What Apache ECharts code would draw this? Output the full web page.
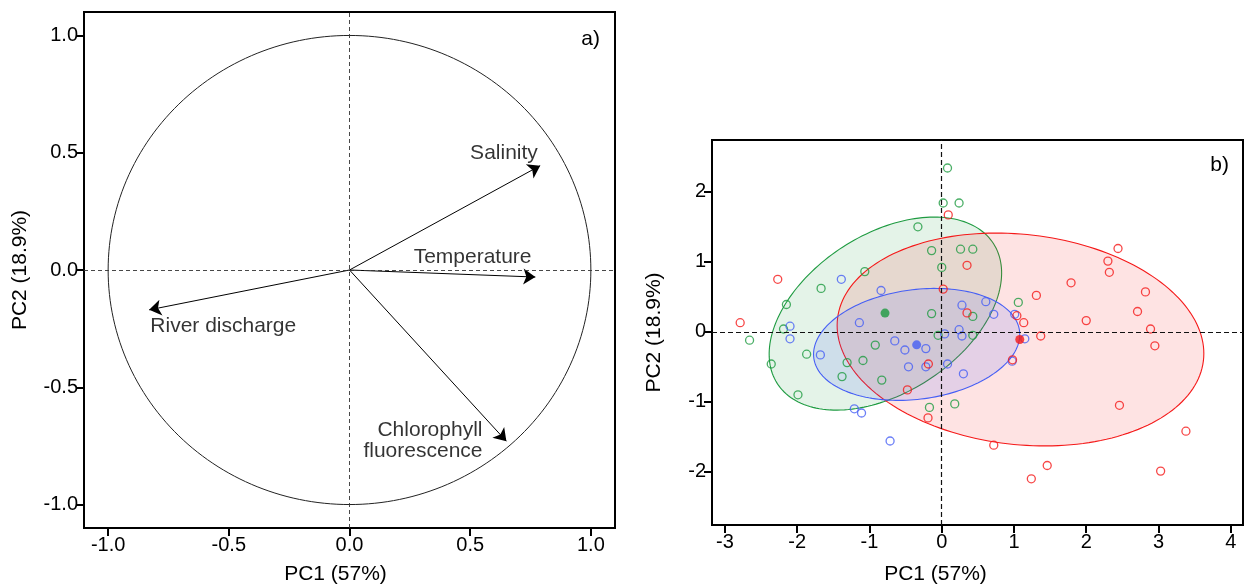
<!DOCTYPE html>
<html><head><meta charset="utf-8">
<script src="https://cdn.jsdelivr.net/npm/echarts@6/dist/echarts.min.js"></script>
<style>html,body{margin:0;padding:0;background:#fff}#c{width:1244px;height:584px}</style>
</head><body><div id="c"></div>
<script>
// ---------- Panel a) : correlation circle ----------
const loadingTicks = [-1, -0.5, 0, 0.5, 1];
const variableNames = ['Salinity', 'Temperature', 'River discharge', 'Chlorophyll\nfluorescence'];
const loadingPC1 = [0.79, 0.77, -0.83, 0.65];
const loadingPC2 = [0.445, -0.03, -0.17, -0.73];
const labelPC1 = [0.64, 0.51, -0.523, 0.551];
const labelPC2 = [0.50, 0.054, -0.24, -0.729];
const labelAlign = ['center', 'center', 'center', 'right'];
const circleRadius = [1];

// ---------- Panel b) : PCA scores ----------
const scoreXTicks = [-3, -2, -1, 0, 1, 2, 3, 4];
const scoreYTicks = [-2, -1, 0, 1, 2];
const greenPC1 = [0.08, 0.02, 0.24, -0.33, -0.14, 0.26, 0.43, 0.00, -1.065, -1.67, -2.15, -2.19, -2.66, -2.36, -1.87, -1.99, -1.31, -1.09, -1.38, -0.92, -0.83, -0.14, 0.43, 1.06, -0.05, 0.43, -0.17, 0.18];
const greenPC2 = [2.34, 1.84, 1.84, 1.50, 1.16, 1.18, 1.18, 0.92, 0.86, 0.62, 0.39, 0.04, -0.12, -0.46, -0.32, -0.90, -0.44, -0.41, -0.64, -0.19, -0.69, 0.26, 0.22, 0.42, -0.05, -0.05, -1.08, -1.03];
const bluePC1 = [-1.39, -0.84, -1.14, -2.10, -2.10, -1.68, -1.21, -1.11, -0.715, 0.28, 0.61, 0.72, 1.01, 0.24, 0.28, 0.04, -0.65, -0.51, -0.22, -0.22, -0.46, 0.08, 0.30, 1.15, 0.975];
const bluePC2 = [0.75, 0.59, 0.13, 0.08, -0.10, -0.33, -1.10, -1.16, -1.56, 0.38, 0.43, 0.25, 0.25, 0.03, -0.06, -0.03, -0.13, -0.26, -0.24, -0.50, -0.50, -0.46, -0.60, -0.10, -0.42];
const redPC1 = [-2.27, -2.79, 0.09, 0.35, 0.02, 0.35, -0.185, -0.475, -0.19, 1.31, 1.04, 1.135, 1.37, 0.98, 2.44, 2.30, 2.32, 1.79, 2.82, 2.71, 2.00, 2.89, 2.95, 2.46, 3.38, 0.72, 1.46, 1.24, 3.03];
const redPC2 = [0.75, 0.13, 1.67, 0.95, 0.61, 0.27, -0.46, -0.83, -1.23, 0.52, 0.23, 0.13, -0.06, -0.40, 1.19, 1.01, 0.85, 0.70, 0.57, 0.29, 0.16, 0.04, -0.20, -1.05, -1.42, -1.62, -1.91, -2.10, -1.99];
const centroidGreen = [-0.785, 0.267];
const centroidBlue = [-0.347, -0.186];
const centroidRed = [1.08, -0.11];
// ellipse: centre PC1, centre PC2, semi-major, semi-minor, angle (deg)
const ellipseGreen = [-0.78, 0.26, 1.80, 1.118, 34.9];
const ellipseRed = [1.09, -0.11, 2.55, 1.50, -6.9];
const ellipseBlue = [-0.347, -0.18, 1.437, 0.782, 8];

const FONT = '"Liberation Sans", Arial, sans-serif';
const GREEN = 'rgb(30,155,65)', RED = 'rgb(245,25,25)', BLUE = 'rgb(70,95,245)';

function zip(a, b) { return a.map((v, i) => [v, b[i]]); }

function ellipseRender(fill, stroke) {
  return function (params, api) {
    const cx = api.value(0), cy = api.value(1), a = api.value(2), b = api.value(3);
    const th = api.value(4) * Math.PI / 180;
    const pts = [];
    const n = 180;
    for (let k = 0; k < n; k++) {
      const t = 2 * Math.PI * k / n;
      const x = cx + a * Math.cos(t) * Math.cos(th) - b * Math.sin(t) * Math.sin(th);
      const y = cy + a * Math.cos(t) * Math.sin(th) + b * Math.sin(t) * Math.cos(th);
      pts.push(api.coord([x, y]));
    }
    return { type: 'polygon', shape: { points: pts }, style: { fill: fill, stroke: stroke, lineWidth: 1.1 } };
  };
}

function circleRender(params, api) {
  const r = api.value(0);
  const pts = [];
  const n = 240;
  for (let k = 0; k < n; k++) {
    const t = 2 * Math.PI * k / n;
    pts.push(api.coord([r * Math.cos(t), r * Math.sin(t)]));
  }
  return { type: 'polygon', shape: { points: pts }, style: { fill: 'none', stroke: '#222', lineWidth: 1 } };
}

function valueAxis(grid, min, max, ticks, fmt, name, gap, pad, isY) {
  return {
    gridIndex: grid, type: 'value', min: min, max: max,
    axisLine: { show: true, onZero: false, lineStyle: { color: '#000', width: 2 } },
    axisTick: { show: true, length: 8, inside: false, lineStyle: { color: '#000', width: 2 }, customValues: ticks },
    axisLabel: { customValues: ticks, formatter: fmt, fontSize: 20, color: '#000', fontFamily: FONT, margin: isY ? 6 : 7 },
    splitLine: { show: false },
    name: name, nameLocation: 'middle', nameGap: gap,
    nameTextStyle: { fontSize: 21, color: '#000', fontFamily: FONT, padding: pad }
  };
}

const fmt1 = v => v.toFixed(1);
const fmt0 = v => String(v);

const zeroLines = (color, width, dash) => ({
  silent: true, symbol: ['none', 'none'], label: { show: false },
  lineStyle: { color: color, width: width, type: dash },
  data: [{ xAxis: 0 }, { yAxis: 0 }], animation: false
});

const hollow = (color) => ({ color: 'rgba(0,0,0,0)', borderColor: color, borderWidth: 1.3 });

const option = {
  animation: false,
  grid: [
    { left: 84, top: 12, width: 531, height: 516, show: true, borderColor: '#000', borderWidth: 2, backgroundColor: 'transparent',
      containLabel: false, outerBoundsMode: 'none' },
    { left: 712, top: 140, width: 531, height: 385, show: true, borderColor: '#000', borderWidth: 2, backgroundColor: 'transparent',
      containLabel: false, outerBoundsMode: 'none' }
  ],
  xAxis: [
    valueAxis(0, -1.1, 1.1, loadingTicks, fmt1, 'PC1 (57%)', 36, [0, 28, 0, 0], false),
    valueAxis(1, -3.18, 4.17, scoreXTicks, fmt0, 'PC1 (57%)', 39, [0, 84, 0, 0], false)
  ],
  yAxis: [
    valueAxis(0, -1.1, 1.1, loadingTicks, fmt1, 'PC2 (18.9%)', 53, 0, true),
    valueAxis(1, -2.76, 2.74, scoreYTicks, fmt0, 'PC2 (18.9%)', 47, 0, true)
  ],
  graphic: [
    { type: 'text', x: 600, y: 39, style: { text: 'a)', fontSize: 21, fontFamily: FONT, fill: '#000', align: 'right', verticalAlign: 'middle' } },
    { type: 'text', x: 1229, y: 165, style: { text: 'b)', fontSize: 21, fontFamily: FONT, fill: '#000', align: 'right', verticalAlign: 'middle' } }
  ],
  series: [
    { type: 'custom', xAxisIndex: 0, yAxisIndex: 0, data: [circleRadius], renderItem: circleRender, silent: true,
      markLine: zeroLines('#333', 0.9, [4, 3]) },
    { type: 'lines', coordinateSystem: 'cartesian2d', xAxisIndex: 0, yAxisIndex: 0,
      data: loadingPC1.map((x, i) => ({ coords: [[0, 0], [x, loadingPC2[i]]] })),
      symbol: ['none', 'arrow'], symbolSize: 12,
      lineStyle: { color: '#000', width: 1, opacity: 1 }, silent: true },
    { type: 'scatter', xAxisIndex: 0, yAxisIndex: 0, symbolSize: 0, silent: true,
      data: variableNames.map((n, i) => ({ value: [labelPC1[i], labelPC2[i]], name: n,
        label: { show: true, position: 'inside', formatter: n, align: labelAlign[i], verticalAlign: 'middle',
          fontSize: 21, lineHeight: 21, color: '#000', textBorderWidth: 0, fontFamily: FONT } })) },

    { type: 'custom', xAxisIndex: 1, yAxisIndex: 1, data: [ellipseGreen], renderItem: ellipseRender('rgba(30,155,65,0.12)', GREEN), silent: true, z: 1 },
    { type: 'custom', xAxisIndex: 1, yAxisIndex: 1, data: [ellipseRed], renderItem: ellipseRender('rgba(245,25,25,0.12)', RED), silent: true, z: 1 },
    { type: 'custom', xAxisIndex: 1, yAxisIndex: 1, data: [ellipseBlue], renderItem: ellipseRender('rgba(70,95,245,0.14)', BLUE), silent: true, z: 1,
      markLine: zeroLines('#111', 1.2, [5, 3]) },
    { type: 'scatter', xAxisIndex: 1, yAxisIndex: 1, symbol: 'circle', symbolSize: 8, data: zip(greenPC1, greenPC2), itemStyle: hollow(GREEN), z: 3 },
    { type: 'scatter', xAxisIndex: 1, yAxisIndex: 1, symbol: 'circle', symbolSize: 8, data: zip(bluePC1, bluePC2), itemStyle: hollow(BLUE), z: 3 },
    { type: 'scatter', xAxisIndex: 1, yAxisIndex: 1, symbol: 'circle', symbolSize: 8, data: zip(redPC1, redPC2), itemStyle: hollow(RED), z: 3 },
    { type: 'scatter', xAxisIndex: 1, yAxisIndex: 1, symbol: 'circle', symbolSize: 9,
      data: [
        { value: centroidGreen, itemStyle: { color: GREEN } },
        { value: centroidBlue, itemStyle: { color: BLUE } },
        { value: centroidRed, itemStyle: { color: RED } }
      ], z: 4 }
  ]
};

const chart = echarts.init(document.getElementById('c'), null, { renderer: 'canvas' });
chart.setOption(option);
</script>
</body></html>
